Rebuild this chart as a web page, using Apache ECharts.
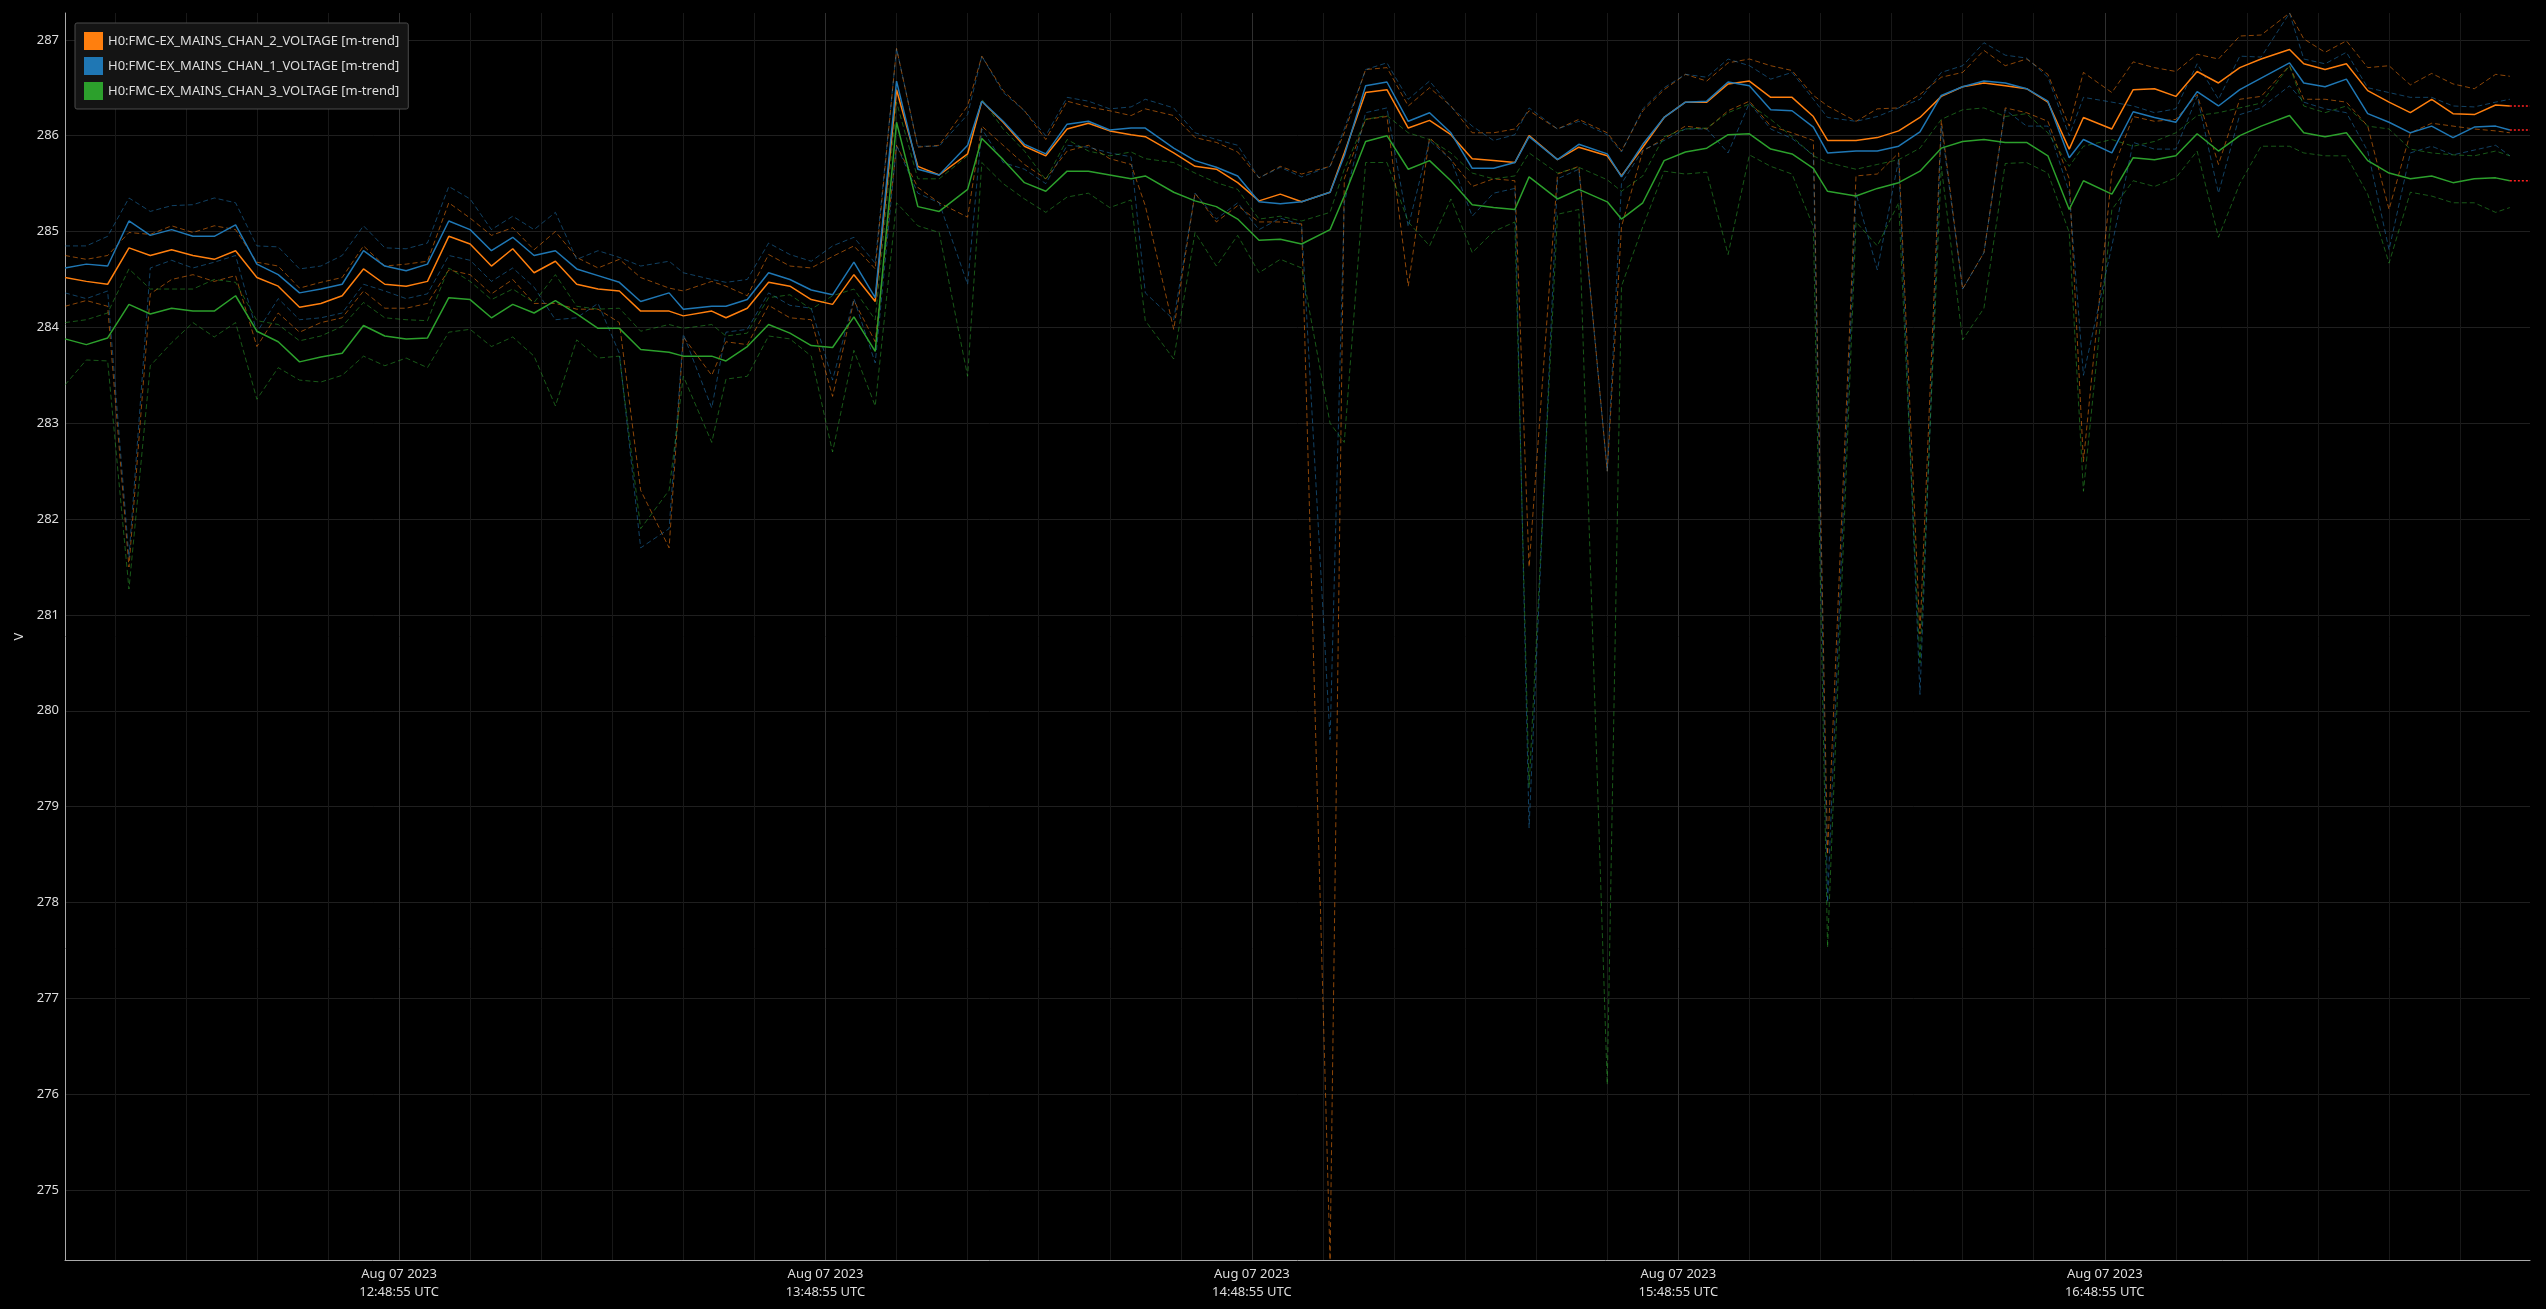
<!DOCTYPE html>
<html>
<head>
<meta charset="utf-8">
<script src="https://cdn.jsdelivr.net/npm/echarts@6/dist/echarts.min.js"></script>
<style>
html,body{margin:0;padding:0;background:#000;}
#chart{width:2546px;height:1309px;}
</style>
</head>
<body>
<div id="chart"></div>
<script>
// ---- data (UTC, Aug 07 2023, minute-trend samples at HH:MM:55) ----
const times = [
"12:01","12:04","12:07","12:10","12:13","12:16","12:19","12:22","12:25","12:28","12:31","12:34","12:37","12:40","12:43","12:46","12:49","12:52","12:55","12:58",
"13:01","13:04","13:07","13:10","13:13","13:16","13:19","13:22","13:26","13:28","13:32","13:34","13:37","13:40","13:43","13:46","13:49","13:52","13:55","13:58",
"14:01","14:04","14:08","14:10","14:13","14:16","14:19","14:22","14:25","14:28","14:31","14:33","14:37","14:40","14:43","14:46","14:49","14:52","14:55","14:59",
"15:01","15:04","15:07","15:10","15:13","15:16","15:19","15:22","15:25","15:27","15:31","15:34","15:38","15:40","15:43","15:46","15:49","15:52","15:55","15:58",
"16:01","16:04","16:07","16:09","16:13","16:16","16:19","16:22","16:25","16:28","16:31","16:34","16:37","16:40","16:43","16:45","16:49","16:52","16:55","16:58",
"17:01","17:04","17:07","17:10","17:14","17:16","17:19","17:22","17:25","17:28","17:31","17:34","17:37","17:40","17:43","17:45"
];

const chan2Mean = [
284.52,284.48,284.45,284.83,284.75,284.81,284.75,284.71,284.80,284.52,284.43,284.21,284.25,284.33,284.61,284.45,284.43,284.48,284.95,284.87,
284.64,284.82,284.57,284.69,284.45,284.40,284.38,284.17,284.17,284.12,284.17,284.10,284.20,284.47,284.43,284.29,284.24,284.55,284.27,286.48,
285.68,285.59,285.81,286.36,286.14,285.89,285.79,286.07,286.13,286.05,286.01,285.99,285.82,285.68,285.65,285.51,285.32,285.39,285.31,285.41,
285.82,286.45,286.48,286.08,286.16,286.01,285.76,285.74,285.72,286.00,285.75,285.88,285.79,285.58,285.88,286.19,286.35,286.35,286.54,286.57,
286.40,286.40,286.20,285.95,285.95,285.98,286.05,286.19,286.41,286.51,286.55,286.52,286.49,286.35,285.86,286.19,286.07,286.48,286.49,286.41,
286.67,286.55,286.71,286.80,286.90,286.75,286.69,286.75,286.47,286.35,286.24,286.38,286.23,286.22,286.32,286.31
];
const chan2Max = [
284.75,284.71,284.75,284.99,284.97,285.06,284.99,285.06,285.02,284.68,284.64,284.41,284.47,284.52,284.85,284.64,284.66,284.69,285.30,285.14,
284.96,285.04,284.81,285.00,284.73,284.62,284.71,284.52,284.41,284.38,284.48,284.43,284.33,284.76,284.64,284.62,284.74,284.85,284.61,286.91,
285.88,285.90,286.31,286.83,286.47,286.26,285.96,286.36,286.30,286.26,286.21,286.28,286.21,285.98,285.93,285.83,285.56,285.68,285.60,285.68,
286.03,286.69,286.71,286.31,286.50,286.31,286.03,286.03,286.07,286.26,286.07,286.17,286.03,285.84,286.26,286.48,286.64,286.57,286.76,286.80,
286.73,286.68,286.42,286.31,286.15,286.28,286.29,286.43,286.61,286.66,286.89,286.73,286.80,286.64,286.10,286.66,286.45,286.77,286.71,286.67,
286.85,286.80,287.04,287.05,287.28,287.01,286.87,286.99,286.71,286.73,286.53,286.65,286.54,286.49,286.64,286.62
];
const chan2Min = [
284.22,284.28,284.22,281.50,284.35,284.50,284.55,284.48,284.54,283.80,284.15,283.95,284.05,284.10,284.38,284.20,284.20,284.25,284.60,284.55,
284.35,284.50,284.25,284.25,284.19,284.19,284.05,282.30,281.70,283.90,283.50,283.85,283.82,284.23,284.10,284.08,283.28,284.28,283.85,285.90,
285.46,285.30,285.15,286.10,285.90,285.70,285.55,285.84,285.90,285.76,285.70,285.27,283.98,285.40,285.10,285.27,285.10,285.10,285.08,274.27,
285.55,286.17,286.20,284.43,285.98,285.75,285.47,285.55,285.53,281.50,285.60,285.68,282.50,285.05,285.84,285.97,286.10,286.07,286.26,286.36,
286.10,286.03,285.95,278.50,285.58,285.60,285.82,280.80,286.16,284.40,284.78,286.29,286.24,286.15,285.55,282.60,285.62,286.20,286.15,286.17,
286.43,285.70,286.38,286.41,286.73,286.38,286.38,286.35,286.10,285.23,286.03,286.13,286.10,286.07,286.05,286.03
];

const chan1Mean = [
284.62,284.66,284.64,285.11,284.96,285.02,284.95,284.95,285.07,284.66,284.55,284.36,284.40,284.45,284.80,284.64,284.59,284.66,285.11,285.02,
284.80,284.94,284.75,284.80,284.61,284.54,284.47,284.27,284.36,284.19,284.22,284.22,284.29,284.57,284.50,284.39,284.34,284.68,284.31,286.57,
285.65,285.59,285.90,286.36,286.15,285.91,285.81,286.12,286.15,286.06,286.08,286.08,285.87,285.74,285.67,285.58,285.31,285.29,285.31,285.41,
285.79,286.52,286.56,286.15,286.24,286.03,285.66,285.66,285.72,285.99,285.75,285.91,285.81,285.57,285.91,286.19,286.35,286.36,286.56,286.52,
286.27,286.26,286.09,285.82,285.84,285.84,285.89,286.04,286.42,286.51,286.57,286.55,286.49,286.36,285.77,285.96,285.82,286.25,286.19,286.14,
286.46,286.31,286.48,286.60,286.76,286.55,286.51,286.59,286.23,286.14,286.03,286.10,285.98,286.09,286.10,286.06
];
const chan1Max = [
284.85,284.85,284.95,285.35,285.21,285.27,285.28,285.35,285.30,284.85,284.84,284.61,284.64,284.75,285.06,284.83,284.82,284.88,285.47,285.34,
285.02,285.16,285.02,285.20,284.71,284.80,284.73,284.64,284.69,284.57,284.50,284.47,284.50,284.88,284.76,284.69,284.85,284.94,284.67,286.91,
285.89,285.89,286.22,286.83,286.45,286.26,286.00,286.40,286.36,286.28,286.30,286.38,286.29,286.03,285.96,285.90,285.56,285.67,285.57,285.68,
286.07,286.69,286.76,286.38,286.57,286.30,286.10,285.95,286.01,286.29,286.07,286.15,286.01,285.83,286.28,286.50,286.64,286.61,286.80,286.73,
286.59,286.66,286.38,286.19,286.15,286.20,286.29,286.38,286.66,286.73,286.97,286.84,286.81,286.61,286.00,286.40,286.35,286.31,286.24,286.28,
286.75,286.38,286.83,286.82,287.28,286.80,286.75,286.87,286.50,286.45,286.40,286.40,286.31,286.30,286.35,286.38
];
const chan1Min = [
284.36,284.30,284.38,281.60,284.62,284.70,284.62,284.68,284.75,283.95,284.30,284.08,284.10,284.15,284.45,284.38,284.30,284.35,284.75,284.70,
284.48,284.62,284.42,284.08,284.10,284.25,283.73,281.70,281.90,283.93,283.16,283.95,283.98,284.36,284.23,284.20,283.45,284.30,283.63,285.90,
285.40,285.30,284.45,286.07,285.72,285.65,285.50,285.90,285.88,285.82,285.78,284.36,284.08,285.40,285.13,285.30,285.02,285.14,285.07,279.70,
285.30,286.24,286.29,285.05,285.95,285.75,285.16,285.40,285.45,278.78,285.55,285.65,282.50,285.50,285.85,285.95,286.07,286.07,285.82,286.34,
286.07,285.97,285.80,278.00,285.40,284.60,285.75,280.17,286.10,284.40,284.78,286.27,286.10,286.10,285.41,283.50,284.85,285.93,285.86,285.86,
286.41,285.40,286.22,286.29,286.52,286.35,286.28,286.24,285.84,284.81,285.82,285.89,285.80,285.85,285.90,285.79
];

const chan3Mean = [
283.88,283.82,283.89,284.24,284.14,284.20,284.17,284.17,284.33,283.96,283.85,283.64,283.69,283.73,284.02,283.91,283.88,283.89,284.31,284.29,
284.10,284.24,284.15,284.28,284.14,283.99,283.99,283.77,283.74,283.70,283.70,283.65,283.80,284.03,283.94,283.81,283.79,284.11,283.75,286.14,
285.26,285.21,285.44,285.97,285.75,285.51,285.42,285.63,285.63,285.59,285.55,285.58,285.41,285.32,285.26,285.13,284.91,284.92,284.87,285.02,
285.37,285.94,286.00,285.65,285.74,285.53,285.28,285.25,285.23,285.57,285.34,285.44,285.31,285.13,285.30,285.74,285.83,285.87,286.01,286.02,
285.86,285.81,285.66,285.42,285.37,285.45,285.51,285.63,285.87,285.94,285.96,285.93,285.93,285.79,285.23,285.53,285.39,285.77,285.75,285.79,
286.02,285.84,286.00,286.10,286.21,286.03,285.99,286.03,285.74,285.61,285.55,285.58,285.51,285.55,285.56,285.53
];
const chan3Max = [
284.05,284.08,284.15,284.61,284.40,284.40,284.40,284.50,284.47,284.07,284.03,283.86,283.91,284.01,284.26,284.10,284.08,284.07,284.62,284.48,
284.29,284.40,284.26,284.55,284.22,284.19,284.20,283.96,284.03,283.99,284.03,283.91,283.94,284.31,284.34,284.19,284.33,284.40,284.08,286.35,
285.55,285.55,285.79,286.38,286.07,285.84,285.54,285.96,285.84,285.79,285.83,285.76,285.72,285.61,285.51,285.44,285.13,285.16,285.11,285.20,
285.65,286.17,286.21,286.03,285.96,285.82,285.61,285.55,285.58,285.82,285.61,285.67,285.54,285.42,285.58,285.99,286.07,286.08,286.24,286.33,
286.17,285.99,285.79,285.72,285.65,285.70,285.75,285.87,286.17,286.27,286.29,286.20,286.23,286.03,285.68,285.89,285.96,285.89,285.94,286.03,
286.21,286.24,286.29,286.34,286.73,286.31,286.24,286.31,286.10,286.07,285.86,285.82,285.80,285.79,285.84,285.79
];
const chan3Min = [
283.40,283.66,283.65,281.27,283.60,283.84,284.05,283.90,284.05,283.25,283.58,283.45,283.43,283.50,283.70,283.60,283.68,283.58,283.95,283.98,
283.80,283.90,283.70,283.18,283.87,283.68,283.70,281.90,282.30,283.49,282.80,283.46,283.49,283.91,283.88,283.70,282.70,283.76,283.18,285.30,
285.06,284.99,283.49,285.72,285.50,285.34,285.20,285.36,285.40,285.25,285.33,284.07,283.67,284.99,284.64,284.96,284.57,284.71,284.62,283.00,
282.80,285.72,285.72,285.10,284.85,285.34,284.78,285.00,285.10,279.20,285.18,285.23,276.10,284.43,285.05,285.63,285.60,285.62,284.76,285.80,
285.68,285.60,285.05,277.53,285.10,284.85,285.30,280.50,285.68,283.87,284.20,285.71,285.72,285.61,284.99,282.29,285.23,285.53,285.47,285.56,
285.84,284.94,285.50,285.89,285.89,285.82,285.79,285.79,285.39,284.67,285.41,285.37,285.30,285.30,285.20,285.25
];

const channelNames = [
  "H0:FMC-EX_MAINS_CHAN_2_VOLTAGE [m-trend]",
  "H0:FMC-EX_MAINS_CHAN_1_VOLTAGE [m-trend]",
  "H0:FMC-EX_MAINS_CHAN_3_VOLTAGE [m-trend]"
];
const xLabelDate = "Aug 07 2023";
const yMin = 274.27, yMax = 287.28;

// ---- chart ----
const T0 = Date.UTC(2023, 7, 7, 12, 1, 55);
const XMAX = Date.UTC(2023, 7, 7, 17, 48, 45);
function toMs(s) { const p = s.split(':'); return Date.UTC(2023, 7, 7, +p[0], +p[1], 55); }
const X = times.map(toMs);
const pairs = vals => vals.map((v, i) => [X[i], v]);

const colors = ['#ff7f0e', '#1f77b4', '#2ca02c'];
const groups = [
  { mean: chan2Mean, min: chan2Min, max: chan2Max },
  { mean: chan1Mean, min: chan1Min, max: chan1Max },
  { mean: chan3Mean, min: chan3Min, max: chan3Max }
];

const series = [];
groups.forEach((g, ci) => {
  const c = colors[ci];
  ['max', 'min'].forEach(k => {
    series.push({
      type: 'line', name: channelNames[ci] + ' ' + k, data: pairs(g[k]),
      symbol: 'none', showSymbol: false, silent: true, z: 2,
      lineStyle: { color: c, width: 1, type: [5, 3], opacity: 0.55 },
      itemStyle: { color: c }
    });
  });
});
groups.forEach((g, ci) => {
  const c = colors[ci];
  series.push({
    type: 'line', name: channelNames[ci], data: pairs(g.mean),
    symbol: 'none', showSymbol: false, silent: true, z: 3,
    lineStyle: { color: c, width: 1.5 }, itemStyle: { color: c }
  });
});
groups.forEach((g, ci) => {
  const last = g.mean[g.mean.length - 1];
  series.push({
    type: 'line', name: 'now' + ci, data: [[X[X.length - 1], last], [XMAX, last]],
    symbol: 'none', showSymbol: false, silent: true, z: 4,
    lineStyle: { color: '#ff2020', width: 1.5, type: [2, 2] }
  });
});

// vertical grid: every minute tick from T0; minor every 10 min, major at hh:48:55
const xGrid = [];
for (let i = 0; i < 60; i++) {
  if (i % 60 === 47) xGrid.push('#303030');
  else if (i % 10 === 7) xGrid.push('#181818');
  else xGrid.push('rgba(0,0,0,0)');
}
const pad = n => (n < 10 ? '0' : '') + n;

const chart = echarts.init(document.getElementById('chart'), null, { renderer: 'canvas' });
chart.setOption({
  backgroundColor: '#000',
  animation: false,
  textStyle: { fontFamily: 'Noto Sans' },
  grid: { left: 65, right: 16, top: 13, bottom: 49, containLabel: false },
  legend: {
    data: channelNames, left: 75, top: 23, orient: 'vertical', icon: 'rect',
    itemWidth: 19, itemHeight: 18, itemGap: 7, padding: [9, 9, 9, 9],
    backgroundColor: '#141414', borderColor: '#4a4a4a', borderWidth: 1, borderRadius: 2,
    textStyle: { color: '#dddddd', fontSize: 13, fontFamily: 'Noto Sans' },
    selectedMode: false
  },
  xAxis: {
    type: 'value', min: T0, max: XMAX, interval: 60000,
    axisLine: { show: true, lineStyle: { color: '#aaaaaa', width: 1 } },
    axisTick: { show: false },
    axisLabel: {
      color: '#dddddd', fontSize: 13, fontFamily: 'Noto Sans', lineHeight: 18, margin: 5,
      showMinLabel: false, showMaxLabel: false,
      formatter: v => {
        const d = new Date(v);
        if (d.getUTCMinutes() === 48 && d.getUTCSeconds() === 55) {
          return xLabelDate + '\n' + pad(d.getUTCHours()) + ':48:55 UTC';
        }
        return '';
      }
    },
    splitLine: { show: true, showMaxLine: false, lineStyle: { color: xGrid, width: 1 } }
  },
  yAxis: {
    type: 'value', min: yMin, max: yMax, splitNumber: 13, minInterval: 1, maxInterval: 1,
    name: 'V', nameLocation: 'middle', nameGap: 38,
    nameTextStyle: { color: '#dddddd', fontSize: 13, fontFamily: 'Noto Sans' },
    axisLine: { show: true, lineStyle: { color: '#aaaaaa', width: 1 } },
    axisTick: { show: false },
    axisLabel: { color: '#dddddd', fontSize: 13, fontFamily: 'Noto Sans', margin: 6, showMinLabel: false, showMaxLabel: false },
    splitLine: { show: true, showMinLine: false, showMaxLine: false, lineStyle: { color: '#1f1f1f', width: 1 } }
  },
  series: series
});
</script>
</body>
</html>
